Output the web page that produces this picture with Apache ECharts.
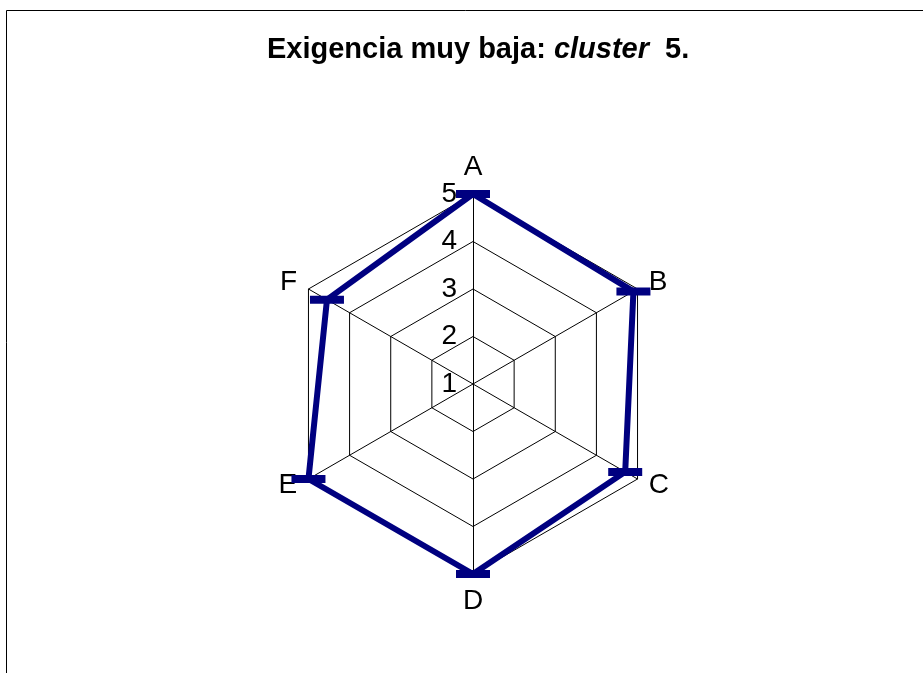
<!DOCTYPE html>
<html>
<head>
<meta charset="utf-8">
<script src="https://cdn.jsdelivr.net/npm/echarts@6/dist/echarts.min.js"></script>
<style>
  html, body { margin: 0; padding: 0; background: #fff; }
  #chart { width: 923px; height: 673px; }
</style>
</head>
<body>
<div id="chart"></div>
<script>
var categories = ["A", "B", "C", "D", "E", "F"];
var values = [5, 4.9, 4.7, 5, 5, 4.55];
var scaleMin = 1;
var scaleMax = 5;

var chart = echarts.init(document.getElementById("chart"));

// radar runs counter-clockwise, so keep A first and reverse the rest
var order = [0, 5, 4, 3, 2, 1];

var indicators = order.map(function (idx, i) {
	var ind = { name: categories[idx], min: scaleMin, max: scaleMax };
	// only the A axis carries the 1..5 labels
	if (i > 0) {
		ind.axisLabel = { show: false };
	}
	return ind;
});
var ordered = order.map(function (idx) { return values[idx]; });

var option = {
	backgroundColor: "#fff",
	animation: false,
	title: {
		text: "{b|Exigencia muy baja: }{i|cluster}{b|  5.}",
		left: 262,
		top: 30,
		textStyle: {
			rich: {
				b: { fontFamily: "Liberation Sans", fontWeight: "bold", fontSize: 29, color: "#000" },
				i: { fontFamily: "Liberation Sans", fontWeight: "bold", fontStyle: "italic", fontSize: 29, color: "#000" }
			}
		}
	},
	graphic: [{
		type: "rect",
		shape: { x: 6.5, y: 10.5, width: 1000, height: 1000 },
		style: { fill: null, stroke: "#000", lineWidth: 1 },
		silent: true
	}],
	radar: {
		center: [473, 384],
		radius: 190,
		startAngle: 90,
		shape: "polygon",
		splitNumber: 4,
		indicator: indicators,
		nameGap: 13,
		axisName: {
			color: "#000",
			fontFamily: "Liberation Sans",
			fontSize: 28
		},
		axisLine: { lineStyle: { color: "#000", width: 1 } },
		splitLine: { lineStyle: { color: "#000", width: 1 } },
		splitArea: { show: false },
		axisTick: { show: false },
		axisLabel: {
			show: true,
			color: "#000",
			fontFamily: "Liberation Sans",
			fontSize: 28,
			margin: 16
		}
	},
	series: [{
		type: "radar",
		symbol: "rect",
		symbolSize: [34, 8],
		lineStyle: { color: "#000080", width: 6 },
		itemStyle: { color: "#000080" },
		data: [{ value: ordered, name: "cluster 5" }]
	}]
};

chart.setOption(option);
</script>
</body>
</html>
